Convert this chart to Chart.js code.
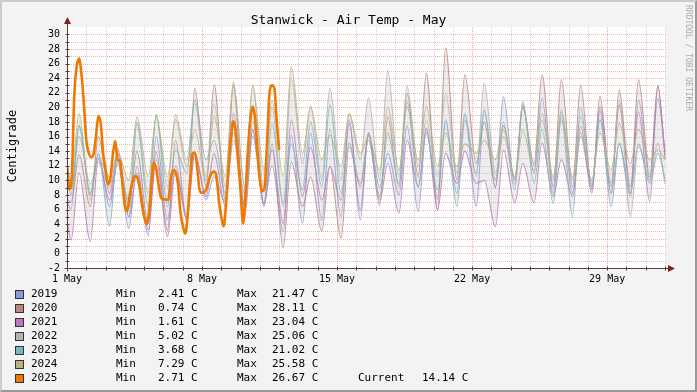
<!DOCTYPE html>
<html lang="en">
<head>
<meta charset="UTF-8">
<title>Stanwick - Air Temp - May</title>
<script src="https://cdn.jsdelivr.net/npm/chart.js@4.4.1/dist/chart.umd.min.js"></script>
<style>
  body { margin: 0; background: #f3f3f3; font-family: "DejaVu Sans Mono", monospace; color: #000; }
  #frame {
    position: absolute; left: 0; top: 0; width: 697px; height: 392px; box-sizing: border-box;
    background: #f3f3f3;
    border-top: 2px solid #cbcbcb; border-left: 2px solid #cbcbcb;
    border-right: 2px solid #999; border-bottom: 2px solid #999;
  }
  #chart { position: absolute; left: 0; top: 0; }
  .title { position: absolute; left: 0; top: 12px; width: 697px; text-align: center; font-size: 13px; line-height: 16px; white-space: pre; }
  .ylabel { position: absolute; left: 12px; top: 146px; transform: translate(-50%, -50%) rotate(-90deg); font-size: 12px; white-space: nowrap; }
  .mark { position: absolute; left: 692px; top: 5px; transform-origin: 0 0; transform: rotate(90deg); font-size: 8px; line-height: 8px; color: #aaa; white-space: pre; }
  .row { position: absolute; left: 0; height: 14px; line-height: 14px; font-size: 11px; white-space: pre; }
  .row span { position: absolute; top: 0; }
  .row .sw { top: 3px; width: 7px; height: 7px; border: 1px solid #333; }
</style>
</head>
<body>
<div id="frame"></div>
<canvas id="chart" width="697" height="392"></canvas>
<div class="title">Stanwick - Air Temp - May</div>
<div class="ylabel">Centigrade</div>
<div class="mark">RRDTOOL / TOBI OETIKER</div>
<div id="legend"></div>

<script>
// daily lows (~05:00) and highs (~15:00) for May, one value per day
const YEARS = ['2019', '2020', '2021', '2022', '2023', '2024', '2025'];
const COLORS = ['#8c9ad9', '#b8877a', '#b87abd', '#b3b3b3', '#78b8b8', '#b5b57a', '#f07800'];

const LOWS_2019  = [6.0, 8.0, 6.4, 3.4, 2.41, 4.6, 5.0, 7.3, 7.0, 8.2, 6.8, 3.0, 4.1, 4.5, 5.0, 4.6, 9.0, 8.0, 5.7, 7.5, 8.2, 6.4, 9.0, 9.5, 11.0, 8.2, 8.2, 9.1, 6.4, 7.8, 10.0];
const HIGHS_2019 = [17.5, 13.5, 12.8, 11.9, 16.0, 12.0, 13.7, 10.5, 15.5, 16.9, 12.0, 16.2, 16.5, 17.0, 18.3, 16.5, 13.7, 17.5, 17.0, 18.3, 19.0, 19.5, 21.47, 20.3, 21.3, 19.4, 16.0, 19.5, 15.0, 21.0, 21.2];

const LOWS_2020  = [7.0, 6.4, 8.2, 6.4, 4.1, 3.2, 4.5, 9.1, 7.3, 5.0, 6.8, 0.74, 6.4, 3.0, 2.05, 9.1, 6.6, 9.1, 10.5, 6.0, 10.1, 12.3, 9.1, 10.1, 12.3, 9.1, 9.1, 8.7, 8.2, 8.2, 10.5];
const HIGHS_2020 = [13.5, 16.0, 13.7, 14.0, 13.9, 15.5, 22.6, 23.1, 22.9, 16.0, 15.0, 12.5, 10.5, 11.9, 14.6, 16.2, 18.7, 21.9, 24.7, 28.11, 24.5, 18.0, 17.5, 20.0, 24.5, 23.8, 23.1, 21.5, 22.4, 23.8, 22.9];

const LOWS_2021  = [1.8, 1.61, 7.3, 5.0, 3.2, 2.3, 4.6, 7.8, 6.4, 6.4, 6.4, 4.1, 7.8, 7.3, 7.3, 5.9, 7.3, 5.5, 9.1, 5.9, 9.6, 9.6, 3.65, 6.9, 6.9, 7.8, 7.8, 8.2, 9.1, 9.1, 7.1];
const HIGHS_2021 = [11.0, 13.0, 12.3, 11.0, 12.8, 11.4, 13.7, 13.7, 19.2, 17.0, 14.2, 18.3, 14.6, 11.9, 17.8, 16.5, 12.3, 15.5, 17.2, 13.7, 14.0, 10.0, 14.2, 12.3, 15.1, 12.8, 17.4, 20.1, 20.3, 19.4, 23.04];

const LOWS_2022  = [9.0, 9.5, 9.1, 7.3, 8.2, 9.1, 12.8, 10.5, 9.1, 9.1, 8.7, 6.4, 12.3, 10.1, 10.1, 12.8, 10.1, 10.5, 11.9, 10.5, 11.0, 10.5, 11.0, 10.5, 12.0, 10.1, 10.5, 9.6, 9.6, 5.02, 10.1];
const HIGHS_2022 = [16.0, 12.5, 13.0, 18.0, 19.0, 19.0, 20.5, 20.5, 23.5, 22.9, 20.0, 24.0, 20.1, 22.6, 19.0, 21.3, 25.06, 22.9, 18.3, 22.0, 19.2, 23.3, 16.0, 20.5, 19.2, 18.3, 18.7, 18.3, 21.0, 14.6, 15.1];

const LOWS_2023  = [8.0, 8.2, 3.68, 5.0, 6.4, 6.4, 11.0, 12.8, 8.2, 6.4, 6.8, 6.8, 8.7, 9.1, 8.2, 9.6, 7.8, 9.6, 9.1, 8.7, 6.4, 11.0, 10.1, 8.7, 9.6, 6.8, 5.0, 9.1, 8.2, 8.2, 9.6];
const HIGHS_2023 = [17.5, 13.7, 14.4, 17.8, 19.0, 14.2, 21.02, 15.5, 16.5, 18.1, 17.8, 15.0, 18.0, 20.3, 15.1, 15.5, 16.5, 20.8, 16.5, 18.0, 18.3, 19.7, 18.0, 20.8, 17.0, 18.7, 19.9, 18.3, 15.1, 15.0, 13.7];

const LOWS_2024  = [10.0, 7.29, 10.5, 10.0, 10.5, 10.5, 11.9, 10.0, 10.5, 9.1, 11.4, 10.5, 13.7, 12.8, 11.9, 13.7, 11.4, 11.4, 12.8, 11.9, 11.9, 13.7, 12.8, 10.5, 11.4, 10.5, 10.1, 10.1, 11.4, 12.3, 12.8];
const HIGHS_2024 = [19.2, 13.0, 13.7, 18.7, 18.7, 18.3, 16.9, 18.7, 23.3, 23.1, 21.0, 25.58, 20.1, 16.2, 19.2, 16.0, 20.0, 20.1, 20.1, 16.5, 15.0, 15.5, 16.9, 16.9, 18.3, 19.7, 16.5, 16.5, 17.8, 17.0, 14.2];

// value at midnight 1 May and at midnight 1 June for 2019..2024
const START_VALUES = [7.1, 7.5, 4.6, 11.5, 10.5, 12.0];
const END_VALUES = [14.0, 13.0, 13.5, 9.5, 10.2, 12.8];

// 2025 so far, every 3 hours from 1 May 00:00
const TEMPS_2025 = [
  12.1, 8.8, 10.5, 21.5, 25.5, 26.67, 24.5, 20.5,
  15.5, 13.8, 13.2, 13.6, 16.0, 18.8, 17.8, 13.7,
  11.5, 9.5, 10.3, 13.5, 15.4, 12.8, 12.6, 9.5,
  6.5, 5.8, 8.0, 9.6, 10.6, 10.5, 9.2, 6.9,
  5.0, 4.0, 5.6, 9.5, 12.4, 11.6, 9.3, 7.6,
  7.4, 7.4, 7.3, 10.2, 11.4, 11.1, 9.6, 5.8,
  3.8, 2.71, 5.0, 9.8, 13.6, 13.8, 11.7, 8.7,
  8.3, 8.4, 9.0, 10.2, 11.0, 11.2, 10.5, 7.2,
  5.0, 3.7, 7.0, 11.8, 15.8, 18.1, 16.5, 12.5,
  8.5, 4.1, 8.0, 14.0, 18.2, 20.1, 18.5, 14.0,
  10.0, 8.5, 9.2, 15.5, 22.0, 23.0, 22.6, 18.0,
  14.14
];
const STEP_2025 = 3; // hours
const HOUR_LOW = 5, HOUR_HIGH = 15;

const TICK_DAYS = [0, 7, 14, 21, 28];
const TICK_LABELS = ['1 May', '8 May', '15 May', '22 May', '29 May'];
const Y_TICKS = [-2, 0, 2, 4, 6, 8, 10, 12, 14, 16, 18, 20, 22, 24, 26, 28, 30];

const LEGEND_MIN = ['2.41', '0.74', '1.61', '5.02', '3.68', '7.29', '2.71'];
const LEGEND_MAX = ['21.47', '28.11', '23.04', '25.06', '21.02', '25.58', '26.67'];
const CURRENT = '14.14';

const lows = [LOWS_2019, LOWS_2020, LOWS_2021, LOWS_2022, LOWS_2023, LOWS_2024];
const highs = [HIGHS_2019, HIGHS_2020, HIGHS_2021, HIGHS_2022, HIGHS_2023, HIGHS_2024];

function yearPoints(i) {
  const pts = [{x: 0, y: START_VALUES[i]}];
  for (let d = 0; d < lows[i].length; d++) {
    pts.push({x: d + HOUR_LOW / 24, y: lows[i][d]});
    pts.push({x: d + HOUR_HIGH / 24, y: highs[i][d]});
  }
  pts.push({x: 31, y: END_VALUES[i]});
  return pts;
}

function fade(hex, a) {
  const n = parseInt(hex.slice(1), 16);
  return 'rgba(' + (n >> 16) + ',' + ((n >> 8) & 255) + ',' + (n & 255) + ',' + a + ')';
}

const past = lows.map((_, i) => yearPoints(i));
const bandHigh = past[0].map((p, k) => ({x: p.x, y: Math.max(...past.map(s => s[k].y))}));
const bandLow = past[0].map((p, k) => ({x: p.x, y: Math.min(...past.map(s => s[k].y))}));
const points2025 = TEMPS_2025.map((v, i) => ({x: i * STEP_2025 / 24, y: v}));

const datasets = [{
  data: points2025, borderColor: COLORS[6], borderWidth: 2.6
}];
for (let i = 5; i >= 0; i--) {
  datasets.push({data: past[i], borderColor: fade(COLORS[i], 0.8), borderWidth: 1.1});
}
datasets.push({data: bandHigh, borderWidth: 0, borderColor: 'rgba(0,0,0,0)', backgroundColor: 'rgba(200,200,200,0.32)', fill: '+1'});
datasets.push({data: bandLow, borderWidth: 0, borderColor: 'rgba(0,0,0,0)'});
datasets.forEach(ds => {
  ds.pointRadius = 0;
  ds.cubicInterpolationMode = 'monotone';
  if (ds.fill === undefined) ds.fill = false;
});

const rrdPlugin = {
  id: 'rrd',
  beforeDatasetsDraw(chart) {
    const {ctx, chartArea: a, scales: {x, y}} = chart;
    ctx.save();
    ctx.lineWidth = 1;
    ctx.setLineDash([1, 1]);
    for (let v = -1; v <= 30; v++) {
      const py = Math.round(y.getPixelForValue(v)) + 0.5;
      ctx.strokeStyle = 'rgba(235,80,80,0.45)';
      ctx.beginPath(); ctx.moveTo(a.left, py); ctx.lineTo(a.right, py); ctx.stroke();
    }
    for (let d = 1; d <= 31; d++) {
      const px = Math.round(x.getPixelForValue(d)) + 0.5;
      ctx.strokeStyle = TICK_DAYS.includes(d) ? 'rgba(235,80,80,0.5)' : 'rgba(150,150,150,0.4)';
      ctx.beginPath(); ctx.moveTo(px, a.top); ctx.lineTo(px, a.bottom); ctx.stroke();
    }
    ctx.restore();
  },
  beforeDraw(chart) {
    const {ctx, chartArea: a} = chart;
    ctx.save();
    ctx.fillStyle = '#ffffff';
    ctx.fillRect(a.left, a.top, a.right - a.left, a.bottom - a.top);
    ctx.restore();
  },
  afterDatasetsDraw(chart) {
    const {ctx, chartArea: a, scales: {x, y}} = chart;
    const ax = Math.round(a.left) + 0.5;
    const ay = Math.round(a.bottom) + 0.5;
    ctx.save();
    ctx.lineWidth = 1;
    ctx.strokeStyle = '#5a3b3b';
    // ticks
    for (let v = -2; v <= 30; v++) {
      const py = Math.round(y.getPixelForValue(v)) + 0.5;
      ctx.beginPath(); ctx.moveTo(ax - 2, py); ctx.lineTo(ax + 2, py); ctx.stroke();
    }
    for (let d = 0; d <= 31; d++) {
      const px = Math.round(x.getPixelForValue(d)) + 0.5;
      ctx.beginPath(); ctx.moveTo(px, ay - 2); ctx.lineTo(px, ay + 2); ctx.stroke();
    }
    // axes
    ctx.beginPath(); ctx.moveTo(ax, ay + 3); ctx.lineTo(ax, 22); ctx.stroke();
    ctx.beginPath(); ctx.moveTo(ax - 3, ay); ctx.lineTo(670, ay); ctx.stroke();
    // arrows
    ctx.fillStyle = '#7f1f1f';
    ctx.beginPath(); ctx.moveTo(ax - 3.5, 24); ctx.lineTo(ax + 3.5, 24); ctx.lineTo(ax, 17); ctx.closePath(); ctx.fill();
    ctx.beginPath(); ctx.moveTo(668, ay - 3.5); ctx.lineTo(668, ay + 3.5); ctx.lineTo(675, ay); ctx.closePath(); ctx.fill();
    ctx.restore();
  }
};

new Chart('chart', {
  type: 'line',
  data: {datasets: datasets},
  options: {
    responsive: false,
    animation: false,
    devicePixelRatio: 1,
    layout: {padding: {top: 27, right: 31, left: 0, bottom: 0}},
    plugins: {legend: {display: false}, tooltip: {enabled: false}},
    scales: {
      x: {
        type: 'linear', min: 0, max: 31.05,
        grid: {display: false, drawTicks: false}, border: {display: false},
        afterBuildTicks: s => { s.ticks = TICK_DAYS.map(v => ({value: v})); },
        afterFit: s => { s.height = 124; },
        ticks: {
          autoSkip: false, maxRotation: 0, padding: 5, color: '#000',
          font: {family: '"DejaVu Sans Mono"', size: 10},
          callback: v => TICK_LABELS[TICK_DAYS.indexOf(v)]
        }
      },
      y: {
        type: 'linear', min: -2, max: 31,
        grid: {display: false, drawTicks: false}, border: {display: false},
        afterBuildTicks: s => { s.ticks = Y_TICKS.map(v => ({value: v})); },
        afterFit: s => { s.width = 67; },
        ticks: {
          padding: 7, color: '#000',
          font: {family: '"DejaVu Sans Mono"', size: 10},
          callback: v => String(v)
        }
      }
    }
  },
  plugins: [rrdPlugin]
});

// legend rows
const legend = document.getElementById('legend');
YEARS.forEach((yr, i) => {
  const row = document.createElement('div');
  row.className = 'row';
  row.style.top = (287 + i * 14) + 'px';
  let html = '<span class="sw" style="left:15px;background:' + COLORS[i] + '"></span>' +
    '<span style="left:31px">' + yr + '</span>' +
    '<span style="left:116px">Min</span>' +
    '<span style="left:158px">' + LEGEND_MIN[i] + ' C</span>' +
    '<span style="left:237px">Max</span>' +
    '<span style="left:272px">' + LEGEND_MAX[i] + ' C</span>';
  if (yr === '2025') {
    html += '<span style="left:358px">Current</span><span style="left:422px">' + CURRENT + ' C</span>';
  }
  row.innerHTML = html;
  legend.appendChild(row);
});
</script>
</body>
</html>
